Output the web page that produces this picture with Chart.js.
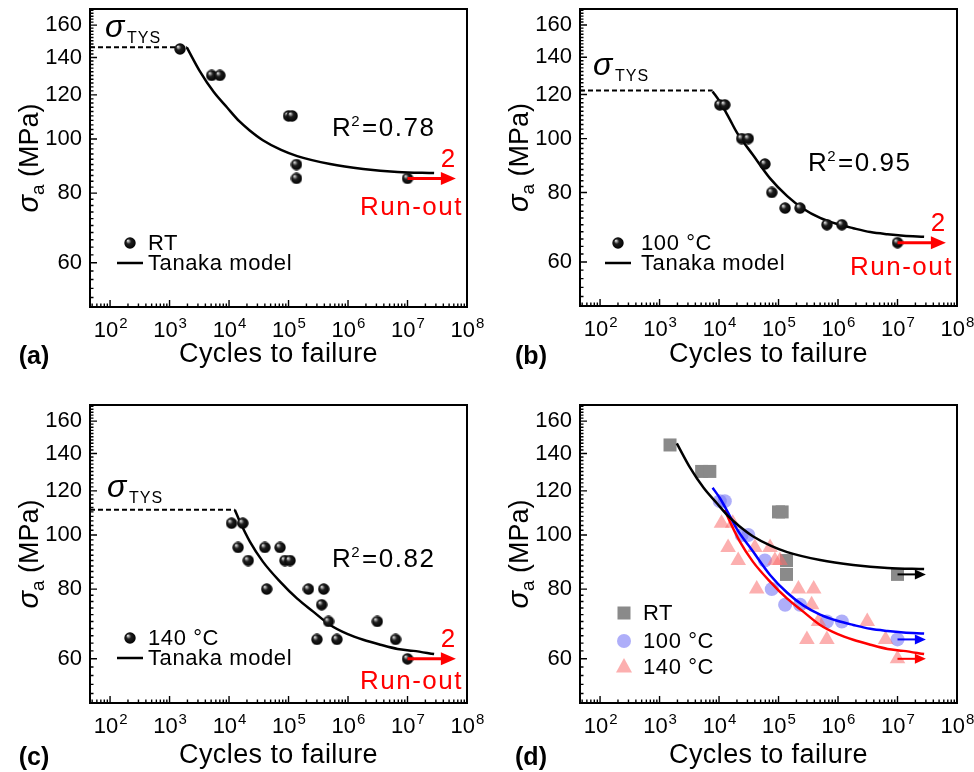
<!DOCTYPE html>
<html>
<head>
<meta charset="utf-8">
<script src="https://cdn.jsdelivr.net/npm/chart.js"></script>
<style>
  body { margin: 0; background: #fff; }
  .panel { position: absolute; width: 487px; height: 386px; }
</style>
</head>
<body>
<div class="panel" style="left:0;top:0"><canvas id="chartA" width="487" height="386"></canvas></div>
<div class="panel" style="left:487px;top:0"><canvas id="chartB" width="487" height="386"></canvas></div>
<div class="panel" style="left:0;top:386px"><canvas id="chartC" width="487" height="386"></canvas></div>
<div class="panel" style="left:487px;top:386px"><canvas id="chartD" width="487" height="386"></canvas></div>

<script>
// axis ticks
const decadeTicks = [1e2, 1e3, 1e4, 1e5, 1e6, 1e7, 1e8];
const stressTicks = [60, 80, 100, 120, 140, 160];

// room temperature
const rtCycles = [1.5e3, 5.1e3, 7.0e3, 1.0e5, 1.15e5, 1.36e5, 1.36e5, 1.0e7];
const rtStress = [145, 130, 130, 110, 110, 90, 85, 85];
const rtFitCycles = [1.95e3, 3.2e3, 5.5e3, 9.2e3, 1.5e4, 2.2e4, 3.7e4, 7.5e4, 1.4e5, 5.0e5, 1.8e6, 6.8e6, 2.8e7];
const rtFitStress = [146, 132.5, 121.5, 114, 107.5, 103.7, 99.5, 95.6, 93.2, 90.2, 88.4, 87.3, 86.9];
const rtYield = 146;

// 100 °C
const c100Cycles = [1.03e4, 1.25e4, 2.4e4, 3.1e4, 5.9e4, 7.7e4, 1.29e5, 2.3e5, 6.5e5, 1.16e6, 1.0e7];
const c100Stress = [115, 115, 100, 100, 90, 80, 75, 75, 70, 70, 65];
const c100FitCycles = [7.8e3, 1.03e4, 1.5e4, 2.0e4, 3.7e4, 7.2e4, 1.4e5, 2.6e5, 5.0e5, 9.7e5, 1.8e6, 3.5e6, 6.8e6, 1.26e7, 2.8e7];
const c100FitStress = [121.5, 116.5, 108.5, 102.5, 93.5, 84.8, 78.8, 74.8, 72.0, 70.2, 69.0, 67.9, 67.3, 66.9, 66.6];
const c100Yield = 122;

// 140 °C
const c140Cycles = [1.1e4, 1.7e4, 1.42e4, 2.1e4, 4.0e4, 7.2e4, 8.7e4, 1.06e5, 4.3e4, 2.16e5, 3.9e5, 3.6e5, 4.7e5, 3.0e5, 6.5e5, 3.1e6, 6.3e6, 1.0e7];
const c140Stress = [105, 105, 95, 90, 95, 95, 90, 90, 80, 80, 80, 75, 70, 65, 65, 70, 65, 60];
const c140FitCycles = [1.25e4, 1.52e4, 2.24e4, 3.7e4, 7.2e4, 1.4e5, 2.6e5, 5.0e5, 9.7e5, 1.8e6, 3.5e6, 6.8e6, 1.26e7, 2.8e7];
const c140FitStress = [111, 105.7, 97.3, 89.6, 82.5, 76.9, 72.9, 69.0, 66.5, 64.9, 63.6, 62.5, 62.0, 61.2];
const c140Yield = 111;

// run-out specimens (stopped at 1e7 cycles)
const runoutCycles = 1e7;
const runoutArrowEnd = 6.5e7;
const runoutArrowEndD = 3.0e7;

const X_MIN = 46, X_MAX = 1e8, Y_MIN = 50, Y_MAX = 171;
const W = 487, H = 386;
const FONT = '"Liberation Sans", Arial, sans-serif';

const zip = (xs, ys) => xs.map((x, i) => ({ x, y: ys[i] }));

function makeSphere(d) {
  const c = document.createElement('canvas');
  c.width = c.height = d;
  const g = c.getContext('2d');
  const r = d / 2;
  const grad = g.createRadialGradient(r * 0.62, r * 0.58, 0, r, r, r);
  grad.addColorStop(0, '#ffffff');
  grad.addColorStop(0.16, '#a8a8a8');
  grad.addColorStop(0.42, '#1e1e1e');
  grad.addColorStop(1, '#000000');
  g.fillStyle = grad;
  g.beginPath();
  g.arc(r, r, r - 0.3, 0, Math.PI * 2);
  g.fill();
  return c;
}
const sphere = makeSphere(12);

// minor ticks
const xTickValues = [];
for (let n = 1; n <= 8; n++) {
  for (let m = 1; m <= 9; m++) {
    const v = m * 10 ** n;
    if (v >= X_MIN && v <= X_MAX) xTickValues.push(v);
  }
}
const yTickValues = [];
for (let v = Y_MIN; v <= Y_MAX; v += 2) yTickValues.push(v);

function fitLine(xs, ys, color, width) {
  return {
    type: 'line', data: zip(xs, ys), borderColor: color, borderWidth: width,
    pointRadius: 0, cubicInterpolationMode: 'monotone', fill: false
  };
}
function yieldLine(stress, startCycles) {
  return {
    type: 'line', data: [{ x: X_MIN, y: stress }, { x: startCycles, y: stress }],
    borderColor: '#000', borderWidth: 2, borderDash: [5, 3], pointRadius: 0, fill: false
  };
}
function sphereSet(xs, ys) {
  return { type: 'scatter', data: zip(xs, ys), pointStyle: sphere, pointRadius: 6, showLine: false };
}

function drawArrow(ctx, x0, x1, y, color, lw, headLen, headHalf) {
  ctx.strokeStyle = color;
  ctx.fillStyle = color;
  ctx.lineWidth = lw;
  ctx.beginPath();
  ctx.moveTo(x0, y);
  ctx.lineTo(x1 - headLen + 1, y);
  ctx.stroke();
  ctx.beginPath();
  ctx.moveTo(x1, y);
  ctx.lineTo(x1 - headLen, y - headHalf);
  ctx.lineTo(x1 - headLen, y + headHalf);
  ctx.closePath();
  ctx.fill();
}

function drawMarker(ctx, kind, x, y, color) {
  ctx.fillStyle = color;
  if (kind === 'sphere') {
    ctx.drawImage(sphere, x - 6, y - 6);
  } else if (kind === 'rect') {
    ctx.fillRect(x - 6.5, y - 6.5, 13, 13);
  } else if (kind === 'circle') {
    ctx.beginPath(); ctx.arc(x, y, 7, 0, Math.PI * 2); ctx.fill();
  } else if (kind === 'triangle') {
    ctx.beginPath();
    ctx.moveTo(x, y - 9); ctx.lineTo(x + 8, y + 5.5); ctx.lineTo(x - 8, y + 5.5);
    ctx.closePath(); ctx.fill();
  } else if (kind === 'line') {
    ctx.strokeStyle = color; ctx.lineWidth = 2.5;
    ctx.beginPath(); ctx.moveTo(x - 13, y); ctx.lineTo(x + 13, y); ctx.stroke();
  }
}

const decor = {
  id: 'decor',
  afterDraw(chart, args, o) {
    const { ctx, chartArea: a, scales: { x, y } } = chart;
    ctx.save();

    // inward tick marks
    ctx.strokeStyle = '#000';
    ctx.lineWidth = 1.4;
    ctx.beginPath();
    y.ticks.forEach(t => {
      const py = y.getPixelForValue(t.value);
      const len = stressTicks.includes(t.value) ? 7 : 3.5;
      ctx.moveTo(a.left, py); ctx.lineTo(a.left + len, py);
    });
    x.ticks.forEach(t => {
      const px = x.getPixelForValue(t.value);
      const len = decadeTicks.includes(t.value) ? 7 : 3.5;
      ctx.moveTo(px, a.bottom); ctx.lineTo(px, a.bottom - len);
    });
    ctx.stroke();

    // plot frame
    ctx.lineWidth = 2;
    ctx.strokeRect(a.left, a.top, a.right - a.left, a.bottom - a.top);

    // 10^n tick labels
    ctx.fillStyle = '#000';
    ctx.textBaseline = 'alphabetic';
    decadeTicks.forEach(d => {
      const px = x.getPixelForValue(d);
      const exp = String(Math.round(Math.log10(d)));
      ctx.font = '22px ' + FONT;
      const wb = ctx.measureText('10').width;
      ctx.font = '15px ' + FONT;
      const we = ctx.measureText(exp).width;
      const x0 = px - (wb + we) / 2;
      ctx.font = '22px ' + FONT;
      ctx.fillText('10', x0, a.bottom + 30);
      ctx.font = '15px ' + FONT;
      ctx.fillText(exp, x0 + wb + 1, a.bottom + 21);
    });

    // x axis title
    ctx.font = '27px ' + FONT;
    ctx.letterSpacing = '0.4px';
    ctx.textAlign = 'center';
    ctx.textBaseline = 'middle';
    ctx.fillText('Cycles to failure', (a.left + a.right) / 2, a.bottom + o.xTitleDy);
    ctx.letterSpacing = '0px';

    // y axis title: sigma_a (MPa)
    ctx.save();
    ctx.translate(o.yTitleX, (a.top + a.bottom) / 2);
    ctx.rotate(-Math.PI / 2);
    ctx.textAlign = 'left';
    ctx.textBaseline = 'alphabetic';
    ctx.font = 'italic 29px ' + FONT;
    const ws = ctx.measureText('σ').width;
    ctx.font = '19px ' + FONT;
    const wa = ctx.measureText('a').width;
    ctx.font = '27px ' + FONT;
    const wm = ctx.measureText(' (MPa)').width;
    let tx = -(ws + wa + wm) / 2;
    ctx.font = 'italic 29px ' + FONT;
    ctx.fillText('σ', tx, 9);
    tx += ws;
    ctx.font = '19px ' + FONT;
    ctx.fillText('a', tx, 15);
    tx += wa;
    ctx.font = '27px ' + FONT;
    ctx.fillText(' (MPa)', tx, 9);
    ctx.restore();

    // panel letter
    ctx.font = 'bold 25px ' + FONT;
    ctx.textAlign = 'center';
    ctx.textBaseline = 'middle';
    ctx.fillText(o.letter, o.letterPos[0], o.letterPos[1]);

    // legend
    ctx.textAlign = 'left';
    ctx.font = '22px ' + FONT;
    ctx.letterSpacing = '0.6px';
    o.legend.forEach(e => {
      drawMarker(ctx, e.kind, e.mx, e.y, e.color);
      ctx.fillStyle = '#000';
      ctx.fillText(e.label, e.tx, e.y + 1);
    });
    ctx.letterSpacing = '0px';

    // yield strength label
    if (o.tys) {
      ctx.fillStyle = '#000';
      ctx.textBaseline = 'alphabetic';
      ctx.font = 'italic 32px ' + FONT;
      ctx.fillText('σ', o.tys[0], o.tys[1]);
      ctx.font = '16px ' + FONT;
      ctx.letterSpacing = '1px';
      ctx.fillText('TYS', o.tys[0] + 22, o.tys[1] + 6);
      ctx.letterSpacing = '0px';
    }

    // R^2
    if (o.r2) {
      ctx.fillStyle = '#000';
      ctx.textBaseline = 'alphabetic';
      ctx.letterSpacing = '1.5px';
      ctx.font = '26px ' + FONT;
      let rx = o.r2.x;
      ctx.fillText('R', rx, o.r2.y);
      rx += ctx.measureText('R').width;
      ctx.font = '15px ' + FONT;
      ctx.fillText('2', rx - 1, o.r2.y - 10);
      rx += ctx.measureText('2').width;
      ctx.font = '26px ' + FONT;
      ctx.fillText('=' + o.r2.text, rx, o.r2.y);
      ctx.letterSpacing = '0px';
    }

    // run-out arrows
    o.arrows.forEach(ar => {
      const x0 = x.getPixelForValue(runoutCycles);
      const x1 = x.getPixelForValue(ar.end);
      const py = y.getPixelForValue(ar.stress);
      drawArrow(ctx, x0, x1, py, ar.color, ar.lw, ar.headLen, ar.headHalf);
      if (ar.labels) {
        ctx.fillStyle = ar.color;
        ctx.textAlign = 'center';
        ctx.textBaseline = 'middle';
        ctx.font = '26px ' + FONT;
        ctx.fillText('2', x1 - 8, py - 19);
        ctx.letterSpacing = '1.5px';
        ctx.fillText('Run-out', x0 + 4, py + ar.runDy);
        ctx.letterSpacing = '0px';
      }
    });

    ctx.restore();
  }
};

function buildPanel(id, area, datasets, deco) {
  const ctx = document.getElementById(id).getContext('2d');
  return new Chart(ctx, {
    type: 'scatter',
    data: { datasets },
    options: {
      responsive: false,
      animation: false,
      events: [],
      layout: { padding: { top: area.top, right: W - area.right, left: 0, bottom: 0 } },
      scales: {
        x: {
          type: 'logarithmic', min: X_MIN, max: X_MAX,
          afterBuildTicks: s => { s.ticks = xTickValues.map(v => ({ value: v })); },
          afterFit: s => { s.height = H - area.bottom; s.paddingLeft = 0; s.paddingRight = 0; },
          ticks: { display: false },
          grid: { display: false, drawTicks: false },
          border: { display: false }
        },
        y: {
          type: 'logarithmic', min: Y_MIN, max: Y_MAX,
          afterBuildTicks: s => { s.ticks = yTickValues.map(v => ({ value: v })); },
          afterFit: s => { s.width = area.left; s.paddingTop = 0; s.paddingBottom = 0; },
          ticks: {
            autoSkip: false, padding: 8, color: '#000',
            font: { family: FONT, size: 22 },
            callback: v => stressTicks.includes(v) ? String(v) : ''
          },
          grid: { display: false, drawTicks: false },
          border: { display: false }
        }
      },
      plugins: { legend: { display: false }, tooltip: { enabled: false }, decor: deco }
    },
    plugins: [decor]
  });
}

const sphereLegend = (label, y0) => [
  { kind: 'sphere', label, mx: 130, tx: 148, y: y0, color: '#000' },
  { kind: 'line', label: 'Tanaka model', mx: 130, tx: 148, y: y0 + 20, color: '#000' }
];
const redArrow = (stress, runDy) => ({
  end: runoutArrowEnd, stress, color: '#ff0000', lw: 3, headLen: 15, headHalf: 6.5, labels: true, runDy
});

// (a) room temperature
buildPanel('chartA', { left: 90, top: 9, right: 467, bottom: 307 }, [
  sphereSet(rtCycles, rtStress),
  fitLine(rtFitCycles, rtFitStress, '#000', 2.5),
  yieldLine(rtYield, rtFitCycles[0])
], {
  letter: '(a)', letterPos: [34, 357], xTitleDy: 48, yTitleX: 29,
  legend: sphereLegend('RT', 243),
  tys: [105, 37],
  r2: { x: 332, y: 136, text: '0.78' },
  arrows: [redArrow(rtStress[rtStress.length - 1], 29)]
});

// (b) 100 °C
buildPanel('chartB', { left: 93, top: 9, right: 470, bottom: 306 }, [
  sphereSet(c100Cycles, c100Stress),
  fitLine(c100FitCycles, c100FitStress, '#000', 2.5),
  yieldLine(c100Yield, c100FitCycles[0])
], {
  letter: '(b)', letterPos: [44, 357], xTitleDy: 49, yTitleX: 32,
  legend: sphereLegend('100 °C', 243).map(e => ({ ...e, mx: e.mx + 1, tx: e.tx + 6 })),
  tys: [106, 75],
  r2: { x: 321, y: 171, text: '0.95' },
  arrows: [redArrow(c100Stress[c100Stress.length - 1], 25)]
});

// (c) 140 °C
buildPanel('chartC', { left: 90, top: 19, right: 467, bottom: 317 }, [
  sphereSet(c140Cycles, c140Stress),
  fitLine(c140FitCycles, c140FitStress, '#000', 2.5),
  yieldLine(c140Yield, c140FitCycles[0])
], {
  letter: '(c)', letterPos: [34, 372], xTitleDy: 53, yTitleX: 29,
  legend: sphereLegend('140 °C', 252),
  tys: [107, 111],
  r2: { x: 332, y: 181, text: '0.82' },
  arrows: [redArrow(c140Stress[c140Stress.length - 1], 23)]
});

// (d) all temperatures together
buildPanel('chartD', { left: 93, top: 19, right: 470, bottom: 317 }, [
  fitLine(rtFitCycles, rtFitStress, '#000', 2.5),
  fitLine(c100FitCycles, c100FitStress, '#0000ff', 2.5),
  fitLine(c140FitCycles, c140FitStress, '#ff0000', 2.5),
  { type: 'scatter', data: zip(c140Cycles, c140Stress), pointStyle: 'triangle', pointRadius: 9,
    backgroundColor: 'rgba(250,110,110,0.55)', borderWidth: 0 },
  { type: 'scatter', data: zip(c100Cycles, c100Stress), pointStyle: 'circle', pointRadius: 7,
    backgroundColor: 'rgba(120,120,245,0.6)', borderWidth: 0 },
  { type: 'scatter', data: zip(rtCycles, rtStress), pointStyle: 'rect', pointRadius: 9.2,
    backgroundColor: '#8a8a8a', borderWidth: 0 }
], {
  letter: '(d)', letterPos: [44, 372], xTitleDy: 53, yTitleX: 32,
  legend: [
    { kind: 'rect', label: 'RT', mx: 137, tx: 156, y: 227, color: '#8a8a8a' },
    { kind: 'circle', label: '100 °C', mx: 137, tx: 156, y: 255, color: 'rgba(120,120,245,0.6)' },
    { kind: 'triangle', label: '140 °C', mx: 137, tx: 156, y: 281, color: 'rgba(250,110,110,0.55)' }
  ],
  arrows: [
    { end: runoutArrowEndD, stress: rtStress[rtStress.length - 1], color: '#000', lw: 2, headLen: 11, headHalf: 5 },
    { end: runoutArrowEndD, stress: c100Stress[c100Stress.length - 1], color: '#0000ff', lw: 2, headLen: 11, headHalf: 5 },
    { end: runoutArrowEndD, stress: c140Stress[c140Stress.length - 1], color: '#ff0000', lw: 2, headLen: 11, headHalf: 5 }
  ]
});
</script>
</body>
</html>
